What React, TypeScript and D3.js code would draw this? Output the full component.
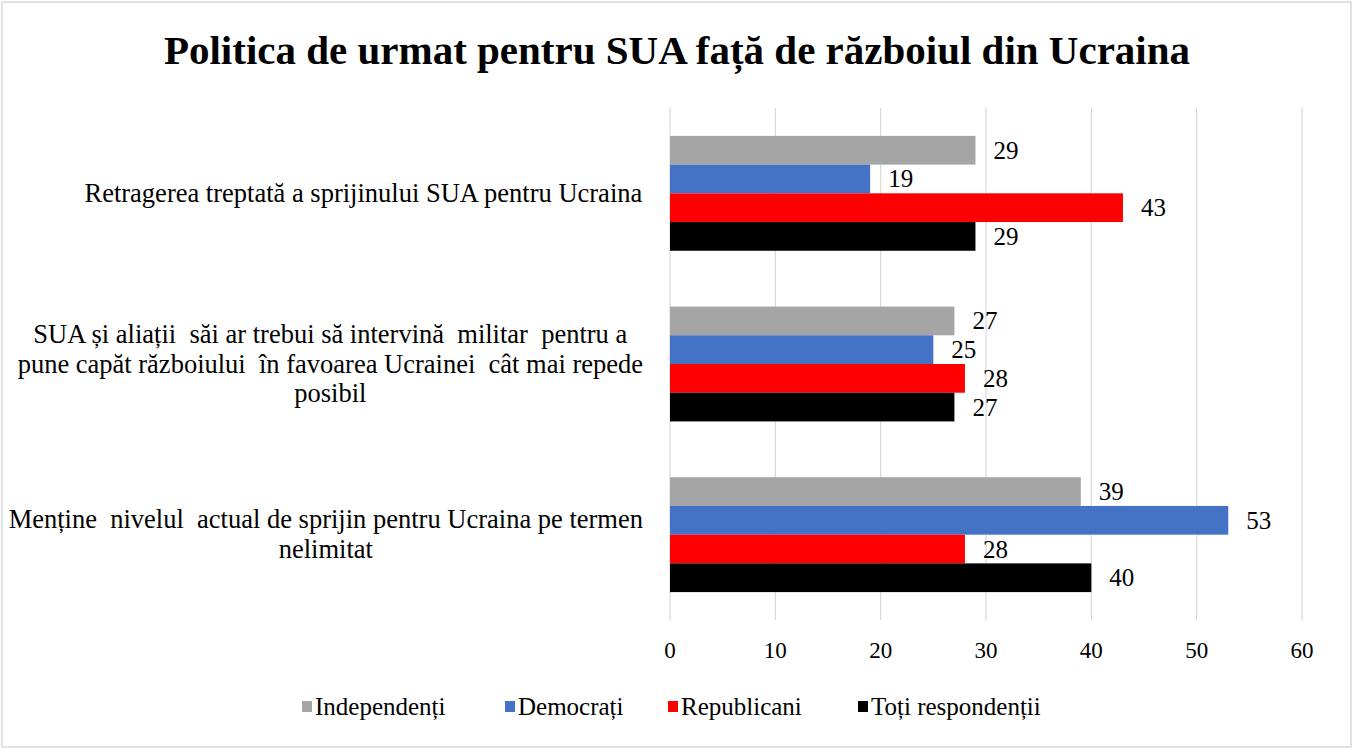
import React from "react";
import * as d3 from "d3";

const categories = [
  "Retragerea treptată a sprijinului SUA pentru Ucraina",
  "SUA și aliații săi ar trebui să intervină militar pentru a pune capăt războiului în favoarea Ucrainei cât mai repede posibil",
  "Menține nivelul actual de sprijin pentru Ucraina pe termen nelimitat",
];
const categoryLines = [
  ["Retragerea treptată a sprijinului SUA pentru Ucraina"],
  [
    "SUA și aliații  săi ar trebui să intervină  militar  pentru a",
    "pune capăt războiului  în favoarea Ucrainei  cât mai repede",
    "posibil",
  ],
  ["Menține  nivelul  actual de sprijin pentru Ucraina pe termen", "nelimitat"],
];
const seriesNames = ["Independenți", "Democrați", "Republicani", "Toți respondenții"];
const seriesColors = ["#a5a5a5", "#4472c4", "#ff0000", "#000000"];
const independenti = [29, 27, 39];
const democrati = [19, 25, 53];
const republicani = [43, 28, 28];
const toti = [29, 27, 40];
const seriesValues = [independenti, democrati, republicani, toti];
const xTicks = [0, 10, 20, 30, 40, 50, 60];
const title = "Politica de urmat pentru SUA față de războiul din Ucraina";

const W = 1354;
const H = 750;
const FONT = "'Liberation Serif', 'Times New Roman', serif";

function measure(text: string, size: number): number {
  if (typeof document === "undefined") return text.length * size * 0.45;
  const c = document.createElement("canvas");
  const ctx = c.getContext("2d");
  if (!ctx) return text.length * size * 0.45;
  ctx.font = `${size}px 'Liberation Serif'`;
  return ctx.measureText(text).width;
}

export default function App() {
  const x = d3.scaleLinear().domain([0, 60]).range([670, 1302]);
  const y = d3
    .scaleBand<number>()
    .domain(categories.map((_, i) => i))
    .range([108, 620])
    .paddingInner(0.327)
    .paddingOuter(0.1635);
  const inner = d3
    .scaleBand<number>()
    .domain(seriesNames.map((_, i) => i))
    .range([0, y.bandwidth()]);

  const labelSize = 26.5;
  const labelRight = 643;
  const lineH = 29.5;

  const legendX = [302, 505, 668, 858];

  return (
    <div style={{ position: "absolute", left: 0, top: 0 }}>
      <svg width={W} height={H} style={{ display: "block", background: "#fff" }}>
        <rect x={2} y={2} width={W - 5} height={H - 5} fill="#fff" stroke="#d9d9d9" strokeWidth={1.5} />
        <text
          x={677}
          y={64}
          textAnchor="middle"
          fontFamily={FONT}
          fontWeight="bold"
          fontSize={41}
          fill="#000"
        >
          {title}
        </text>
        {xTicks.map((t) => (
          <g key={t}>
            <line x1={x(t)} x2={x(t)} y1={108} y2={620} stroke="#d9d9d9" strokeWidth={1.2} />
            <text
              x={x(t)}
              y={658}
              textAnchor="middle"
              fontFamily={FONT}
              fontSize={23}
              fill="#000"
            >
              {t}
            </text>
          </g>
        ))}
        {categories.map((c, ci) => {
          const g0 = y(ci) as number;
          return (
            <g key={ci}>
              {seriesValues.map((vals, si) => {
                const v = vals[ci];
                const by = g0 + (inner(si) as number);
                const bh = inner.bandwidth();
                return (
                  <g key={si}>
                    <rect x={x(0)} y={by} width={x(v) - x(0)} height={bh} fill={seriesColors[si]} />
                    <text
                      x={x(v) + 18}
                      y={by + bh / 2 + 8.5}
                      fontFamily={FONT}
                      fontSize={25}
                      fill="#000"
                    >
                      {v}
                    </text>
                  </g>
                );
              })}
            </g>
          );
        })}
        {categoryLines.map((lines, ci) => {
          const center = (y(ci) as number) + y.bandwidth() / 2;
          const maxW = Math.max(...lines.map((l) => measure(l, labelSize)));
          const cx = labelRight - maxW / 2;
          const top = center - ((lines.length - 1) * lineH) / 2;
          return (
            <text
              key={ci}
              textAnchor="middle"
              fontFamily={FONT}
              fontSize={labelSize}
              fill="#000"
              style={{ whiteSpace: "pre" }}
            >
              {lines.map((l, li) => (
                <tspan key={li} x={cx} y={top + li * lineH + 8.5}>
                  {l}
                </tspan>
              ))}
            </text>
          );
        })}
        {seriesNames.map((s, si) => (
          <g key={s}>
            <rect x={legendX[si]} y={701} width={10} height={11} fill={seriesColors[si]} />
            <text x={legendX[si] + 13} y={715} fontFamily={FONT} fontSize={25} fill="#000">
              {s}
            </text>
          </g>
        ))}
      </svg>
    </div>
  );
}
